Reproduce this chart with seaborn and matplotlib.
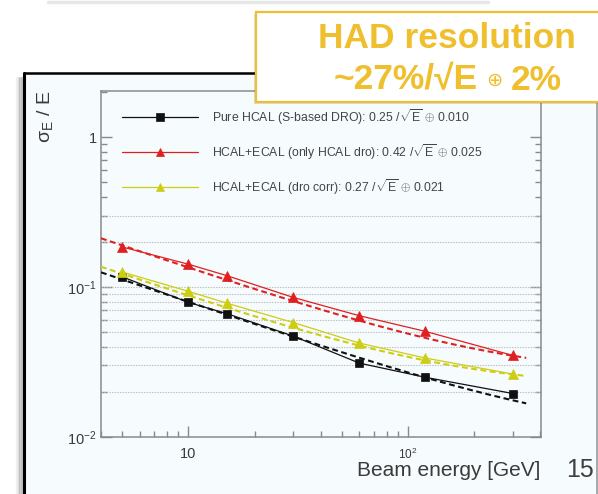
import numpy as np
import pandas as pd
import matplotlib
matplotlib.use("Agg")
import matplotlib.pyplot as plt
import seaborn as sns
from matplotlib.patches import Rectangle
from matplotlib.ticker import LogLocator, NullFormatter, FixedLocator, FixedFormatter

# --- data -----------------------------------------------------------------
energy = [5, 10, 15, 30, 60, 120, 300]          # beam energy [GeV]
res_pure_hcal = [0.117, 0.079, 0.0664, 0.0471, 0.0311, 0.0250, 0.0195]
res_hcal_ecal = [0.185, 0.142, 0.119, 0.0853, 0.0644, 0.0506, 0.0350]
res_dro_corr = [0.126, 0.0936, 0.078, 0.058, 0.0423, 0.0336, 0.0263]

# fitted resolution terms: (stochastic a, constant c) for a/sqrt(E) (+) c
fit_pure_hcal = (0.25, 0.010)
fit_hcal_ecal = (0.42, 0.025)
fit_dro_corr = (0.27, 0.021)
fit_range = (4.0, 345.0)

series_names = [
    "Pure HCAL (S-based DRO)",
    "HCAL+ECAL (only HCAL dro)",
    "HCAL+ECAL (dro corr)",
]

x_ticks = [10, 100]
x_tick_labels = ["10", r"$10^{2}$"]
y_ticks = [0.01, 0.1, 1]
y_tick_labels = [r"$10^{-2}$", r"$10^{-1}$", "1"]
grid_levels = [0.02, 0.03, 0.04, 0.05, 0.06, 0.07, 0.08, 0.09, 0.1, 0.2, 0.3]

# --- style ----------------------------------------------------------------
sns.set_style("ticks")
plt.rcParams["font.family"] = ["Liberation Sans", "DejaVu Sans"]
plt.rcParams["mathtext.fontset"] = "custom"
plt.rcParams["mathtext.rm"] = "Liberation Sans"
plt.rcParams["mathtext.it"] = "Liberation Sans:italic"
plt.rcParams["mathtext.bf"] = "Liberation Sans:bold"

W, H = 598, 494
fig = plt.figure(figsize=(W / 100, H / 100), dpi=100)
fig.patch.set_facecolor("white")

canvas_bg = "#f6fbfd"
frame_gray = "#8a8a8a"
text_gray = "#3a3a3a"

# background layer: slide decorations and the ROOT canvas
bg = fig.add_axes([0, 0, 1, 1], zorder=0)
bg.set_xlim(0, W)
bg.set_ylim(H, 0)
bg.axis("off")
bg.plot([48, 488], [2, 2], color="#e6e6e6", lw=2.5, solid_capstyle="round")
for i, a in enumerate([0.06, 0.10, 0.16, 0.24]):
    bg.plot([17 + 1.6 * i, 17 + 1.6 * i], [78, H], color="black", alpha=a, lw=1.6)
bg.add_patch(Rectangle((24, 73), 573, H - 73, facecolor=canvas_bg, edgecolor="none"))
bg.plot([24, 24], [73, H], color="black", lw=2.2)
bg.plot([24, 300], [73, 73], color="black", lw=1.8)
bg.plot([596.5, 596.5], [73, H], color="#9a9a9a", lw=1.2)

# --- main plot ------------------------------------------------------------
L, R, T, B = 101, 541, 91, 437
ax = fig.add_axes([L / W, 1 - B / H, (R - L) / W, (B - T) / H], zorder=1)
ax.set_facecolor(canvas_bg)
ax.set_xscale("log")
ax.set_yscale("log")
ax.set_xlim(4, 403)
ax.set_ylim(0.01, 2.03)

for g in grid_levels:
    ax.axhline(g, color="#bcbcbc", lw=0.8, ls=(0, (1.2, 1.2)), zorder=1)

colors = ["#111111", "#e02020", "#cdcd12"]
markers = ["s", "^", "^"]
msizes = [6.0, 6.5, 6.5]
values = [res_pure_hcal, res_hcal_ecal, res_dro_corr]
fits = [fit_pure_hcal, fit_hcal_ecal, fit_dro_corr]

e_fit = np.geomspace(fit_range[0], fit_range[1], 200)
handles, labels = [], []
for name, vals, (a, c), col, mk, ms in zip(series_names, values, fits, colors, markers, msizes):
    df = pd.DataFrame({"energy": energy, "res": vals})
    sns.lineplot(data=df, x="energy", y="res", ax=ax, color=col, lw=0.9,
                 marker=mk, markersize=ms, markeredgecolor=col, markeredgewidth=0.5,
                 zorder=4, legend=False)
    handles.append(ax.lines[-1])
    labels.append(name + ": " + f"{a:.2f}" + r" /$\sqrt{\mathrm{E}}$ $\oplus$ " + f"{c:.3f}")
    fit_df = pd.DataFrame({"energy": e_fit, "res": np.sqrt((a / np.sqrt(e_fit)) ** 2 + c ** 2)})
    sns.lineplot(data=fit_df, x="energy", y="res", ax=ax, color=col, lw=1.5,
                 dashes=False, zorder=3, legend=False)
    ax.lines[-1].set_linestyle((0, (2.8, 1.7)))

ax.set_xlabel("")
ax.set_ylabel("")

for s in ax.spines.values():
    s.set_color(frame_gray)
    s.set_linewidth(1.1)
ax.spines["top"].set_visible(True)
ax.spines["right"].set_visible(True)

ax.xaxis.set_major_locator(FixedLocator(x_ticks))
ax.xaxis.set_major_formatter(FixedFormatter(x_tick_labels))
ax.xaxis.set_minor_locator(LogLocator(base=10, subs=np.arange(2, 10)))
ax.xaxis.set_minor_formatter(NullFormatter())
ax.yaxis.set_major_locator(FixedLocator(y_ticks))
ax.yaxis.set_major_formatter(FixedFormatter(y_tick_labels))
ax.yaxis.set_minor_locator(LogLocator(base=10, subs=np.arange(2, 10)))
ax.yaxis.set_minor_formatter(NullFormatter())

ax.tick_params(axis="both", which="both", direction="in", color=frame_gray,
               labelcolor=text_gray, width=1.0)
ax.tick_params(axis="both", which="major", length=8, labelsize=10.5)
ax.tick_params(axis="both", which="minor", length=4)
ax.tick_params(axis="x", which="major", pad=7)
ax.tick_params(axis="y", which="both", left=True, right=True)
ax.tick_params(axis="y", which="major", pad=3)
ax.get_xticklabels()[1].set_fontsize(8.5)

leg = ax.legend(handles, labels, loc="upper left",
                bbox_to_anchor=(122 / W, 1 - 107 / H), bbox_transform=fig.transFigure,
                frameon=False, borderpad=0, borderaxespad=0, handlelength=6.2,
                handletextpad=1.2, labelspacing=1.25, fontsize=8.8, markerscale=0.9)
for t in leg.get_texts():
    t.set_color("#444444")

fig.text(45 / W, 1 - 117 / H, r"σ$_{\mathrm{E}}$ / E", rotation=90,
         ha="center", va="center", fontsize=14, color=text_gray)
fig.text(540 / W, 1 - 470 / H, "Beam energy [GeV]", ha="right", va="center",
         fontsize=15, color=text_gray)

# --- overlay: highlight box and slide number ------------------------------
top = fig.add_axes([0, 0, 1, 1], zorder=3)
top.set_xlim(0, W)
top.set_ylim(H, 0)
top.axis("off")
top.patch.set_alpha(0)
gold = "#f0bf2e"
top.add_patch(Rectangle((254, 14.5), 350, 90, facecolor="#000000", alpha=0.12, edgecolor="none"))
top.add_patch(Rectangle((256, 12), 350, 90, facecolor="white", edgecolor=gold, lw=1.6))
top.text(447, 39, "HAD resolution", ha="center", va="center", fontsize=25.5,
         fontweight="bold", color=gold)
t1 = top.text(332, 80, "~27%/√E", ha="left", va="center", fontsize=25.5,
              fontweight="bold", color=gold)
t2 = top.annotate("⊕", xy=(1, 0.5), xycoords=t1, xytext=(6, 0), textcoords="offset points",
                  ha="left", va="center", fontsize=14, color=gold,
                  family=["DejaVu Sans"])
t3 = top.annotate("2%", xy=(1, 0.5), xycoords=t2, xytext=(6, 0), textcoords="offset points",
                  ha="left", va="center", fontsize=25.5, fontweight="bold", color=gold)
top.text(594, 470, "15", ha="right", va="center", fontsize=18, color="#404040")

# centre the composite second line of the box under the first one
fig.canvas.draw()
r = fig.canvas.get_renderer()
x_left = t1.get_window_extent(r).x0
x_right = t3.get_window_extent(r).x1
width_data = (x_right - x_left) * W / fig.bbox.width
t1.set_x(448 - width_data / 2)

fig.savefig("out.png", dpi=100, facecolor=fig.get_facecolor())
